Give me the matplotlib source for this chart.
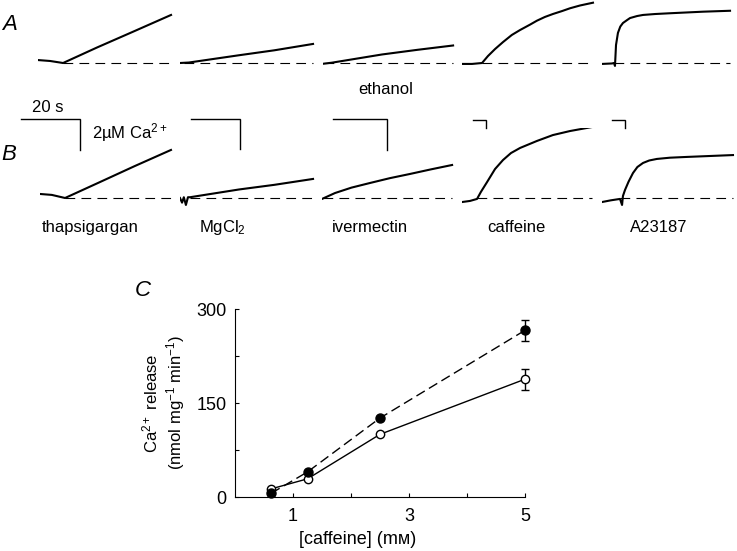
import matplotlib
matplotlib.use("Agg")
import matplotlib.pyplot as plt
import numpy as np

plt.rcParams['font.family'] = ['Liberation Sans', 'DejaVu Sans']
plt.rcParams['mathtext.fontset'] = 'custom'
plt.rcParams['mathtext.rm'] = 'Liberation Sans'
plt.rcParams['mathtext.it'] = 'Liberation Sans:italic'
plt.rcParams['lines.scale_dashes'] = False

# ---- panels A and B: Ca2+ traces (time in s, [Ca2+] above baseline in uM)
THAPS_A_T = [0, 4.1, 8.5, 20, 32, 45.1]
THAPS_A_CA = [0.19, 0.13, 0.0, 1.0, 2.0, 3.10]
MGCL_A_T = [0, 3, 20, 32, 45.1]
MGCL_A_CA = [0.0, 0.03, 0.50, 0.82, 1.23]
ETOH_A_T = [0, 3, 20, 32, 44.1]
ETOH_A_CA = [-0.05, 0.02, 0.55, 0.85, 1.13]
CAFF_A_T = [0, 3.4, 6.8, 8.8, 11.2, 13.9, 16.9, 19.7, 23.1, 25.4, 28.1, 30.8,
            33.9, 36.6, 40.0, 44.4]
CAFF_A_CA = [-0.06, -0.06, 0.0, 0.45, 0.90, 1.35, 1.81, 2.13, 2.48, 2.73, 2.97,
             3.16, 3.35, 3.53, 3.71, 3.89]
A23_A_T = [0, 3.4, 4.07, 4.4, 4.75, 5.4, 6.2, 7.1, 8.5, 9.5, 11.9, 13.9, 18,
           23.1, 34.2, 43.4]
A23_A_CA = [-0.06, -0.03, 0.0, -0.19, 1.16, 1.94, 2.35, 2.58, 2.77, 2.90, 3.03,
            3.10, 3.16, 3.21, 3.31, 3.37]

THAPS_B_T = [0, 4.0, 8.5, 20, 32, 44.4]
THAPS_B_CA = [0.26, 0.20, 0.0, 1.0, 2.05, 3.10]
MGCL_B_T = [0, 0.7, 1.3, 2.0, 2.7, 3.4, 20, 32, 45.1]
MGCL_B_CA = [0.0, -0.3, 0.05, -0.45, 0.05, 0.05, 0.55, 0.85, 1.23]
IVER_B_T = [0, 1.4, 4.4, 10, 16.3, 23, 29.8, 37, 44.1]
IVER_B_CA = [-0.06, 0.06, 0.32, 0.67, 0.97, 1.28, 1.55, 1.85, 2.13]
CAFF_B_T = [0, 2.7, 5.1, 6.4, 8.5, 11.2, 13.9, 16.6, 19.7, 25.4, 30.8, 36.6, 44.1]
CAFF_B_CA = [-0.26, -0.19, -0.06, 0.39, 1.03, 1.87, 2.45, 2.90, 3.23, 3.68, 4.06,
             4.32, 4.58]
A23_B_T = [0, 3, 6.1, 6.8, 7.1, 7.8, 9.0, 10.5, 12, 13.9, 16, 18.6, 23, 28.8, 44.4]
A23_B_CA = [-0.26, -0.15, -0.06, -0.45, 0.13, 0.52, 1.05, 1.61, 2.0, 2.26, 2.42,
            2.52, 2.60, 2.65, 2.77]

# time at which each dashed baseline starts (release onset, s)
ONSET_A = [8.5, 1.5, 0.5, 6.8, 4.07]
ONSET_B = [8.5, 3.4, 0.5, 5.1, 6.1]

TRACE_LABELS = ["thapsigargan", "MgCl$_2$", "ivermectin", "caffeine", "A23187"]

# ---- panel C: caffeine dose response
CAFFEINE_MM = np.array([0.625, 1.25, 2.5, 5.0])
RELEASE_FILLED = np.array([6, 40, 126, 266])
ERR_FILLED = np.array([0, 0, 0, 17])
RELEASE_OPEN = np.array([13, 29, 100, 188])
ERR_OPEN = np.array([0, 0, 0, 17])

W, H = 737, 551
fig = plt.figure(figsize=(W / 100, H / 100), dpi=100)

PX_S = 2.95    # pixels per second
PX_UM = 15.5   # pixels per uM


def fx(px):
    return px / W


def fy(py):
    return 1 - py / H


def trace_axes(x0, yb):
    ax = fig.add_axes([fx(x0), fy(yb + 15), 140 / W, 85 / H])
    ax.set_xlim(0, 140 / PX_S)
    ax.set_ylim(-15 / PX_UM, 70 / PX_UM)
    ax.axis('off')
    return ax


def draw_trace(ax, t, ca, onset):
    ax.plot([onset, t[-1]], [0, 0], color='black', lw=0.8, dashes=(7, 4.5))
    ax.plot(t, ca, color='black', lw=1.5, solid_joinstyle='round')


def scale_bar(ax, t_end, c_top, len_s, len_um):
    ax.plot([t_end - len_s, t_end, t_end], [c_top, c_top, c_top - len_um],
            color='black', lw=1.0, clip_on=False, solid_joinstyle='miter')


row_a = [(THAPS_A_T, THAPS_A_CA), (MGCL_A_T, MGCL_A_CA), (ETOH_A_T, ETOH_A_CA),
         (CAFF_A_T, CAFF_A_CA), (A23_A_T, A23_A_CA)]
row_b = [(THAPS_B_T, THAPS_B_CA), (MGCL_B_T, MGCL_B_CA), (IVER_B_T, IVER_B_CA),
         (CAFF_B_T, CAFF_B_CA), (A23_B_T, A23_B_CA)]
starts_a = [38, 180, 323, 462, 602]
starts_b = [40, 180, 322, 462, 602]

for (t, ca), x0, on in zip(row_a, starts_a, ONSET_A):
    ax = trace_axes(x0, 63)
    draw_trace(ax, t, ca, on)

axes_b = []
for (t, ca), x0, on in zip(row_b, starts_b, ONSET_B):
    ax = trace_axes(x0, 198)
    draw_trace(ax, t, ca, on)
    axes_b.append(ax)

scale_bar(axes_b[0], 13.6, 5.10, 20, 2)
scale_bar(axes_b[1], 20.3, 5.10, 16.6, 1.94)
scale_bar(axes_b[2], 22.0, 5.10, 18.3, 2)
scale_bar(axes_b[3], 8.1, 5.03, 4.4, 0.52)
scale_bar(axes_b[4], 7.8, 5.03, 4.4, 0.52)

fs = 12
fig.text(fx(10), fy(24), "A", fontsize=16, style='italic', ha='center', va='center')
fig.text(fx(9), fy(154), "B", fontsize=16, style='italic', ha='center', va='center')
fig.text(fx(386), fy(90), "ethanol", fontsize=fs, ha='center', va='center')
fig.text(fx(48), fy(107), "20 s", fontsize=fs, ha='center', va='center')
fig.text(fx(92), fy(133), "2\u00b5M Ca$^{2+}$", fontsize=fs, ha='left', va='center')
for lab, xc in zip(TRACE_LABELS, [90, 222, 370, 516, 659]):
    fig.text(fx(xc), fy(228), lab, fontsize=fs, ha='center', va='center')

# ---- panel C
axc = fig.add_axes([fx(235), fy(497), 290 / W, 188 / H])
axc.plot(CAFFEINE_MM, RELEASE_OPEN, color='black', lw=1.0, marker='o', ms=6,
         mfc='white', mec='black', mew=1.0, clip_on=False, zorder=3)
axc.plot(CAFFEINE_MM, RELEASE_FILLED, color='black', lw=1.0, dashes=(7, 3.5),
         marker='o', ms=6.5, mfc='black', mec='black', clip_on=False, zorder=4)
m = ERR_FILLED > 0
axc.errorbar(CAFFEINE_MM[m], RELEASE_FILLED[m], yerr=ERR_FILLED[m], fmt='none',
             ecolor='black', elinewidth=1.0, capsize=3, capthick=1.0,
             clip_on=False, zorder=2)
m = ERR_OPEN > 0
axc.errorbar(CAFFEINE_MM[m], RELEASE_OPEN[m], yerr=ERR_OPEN[m], fmt='none',
             ecolor='black', elinewidth=1.0, capsize=3, capthick=1.0,
             clip_on=False, zorder=2)

axc.set_xlim(0, 5)
axc.set_ylim(0, 300)
axc.spines['top'].set_visible(False)
axc.spines['right'].set_visible(False)
axc.spines['left'].set_linewidth(0.8)
axc.spines['bottom'].set_linewidth(0.8)
axc.set_xticks([1, 3, 5])
axc.set_xticks([2, 4], minor=True)
axc.set_yticks([0, 150, 300])
axc.set_yticks([75, 225], minor=True)
axc.tick_params(which='both', direction='in', length=3, width=0.8, labelsize=13)
axc.tick_params(axis='x', pad=8)
axc.tick_params(axis='y', pad=6)

fig.text(fx(150), fy(403), "Ca$^{2+}$ release", fontsize=fs, rotation=90,
         ha='center', va='center')
fig.text(fx(176), fy(403), "(nmol mg$^{-1}$ min$^{-1}$)", fontsize=fs, rotation=90,
         ha='center', va='center')
fig.text(fx(358), fy(540), "[caffeine] (m\u1d0d)", fontsize=13, ha='center',
         va='center')
fig.text(fx(143), fy(291), "C", fontsize=16, style='italic', ha='center', va='center')

fig.savefig("out.png", dpi=100)
